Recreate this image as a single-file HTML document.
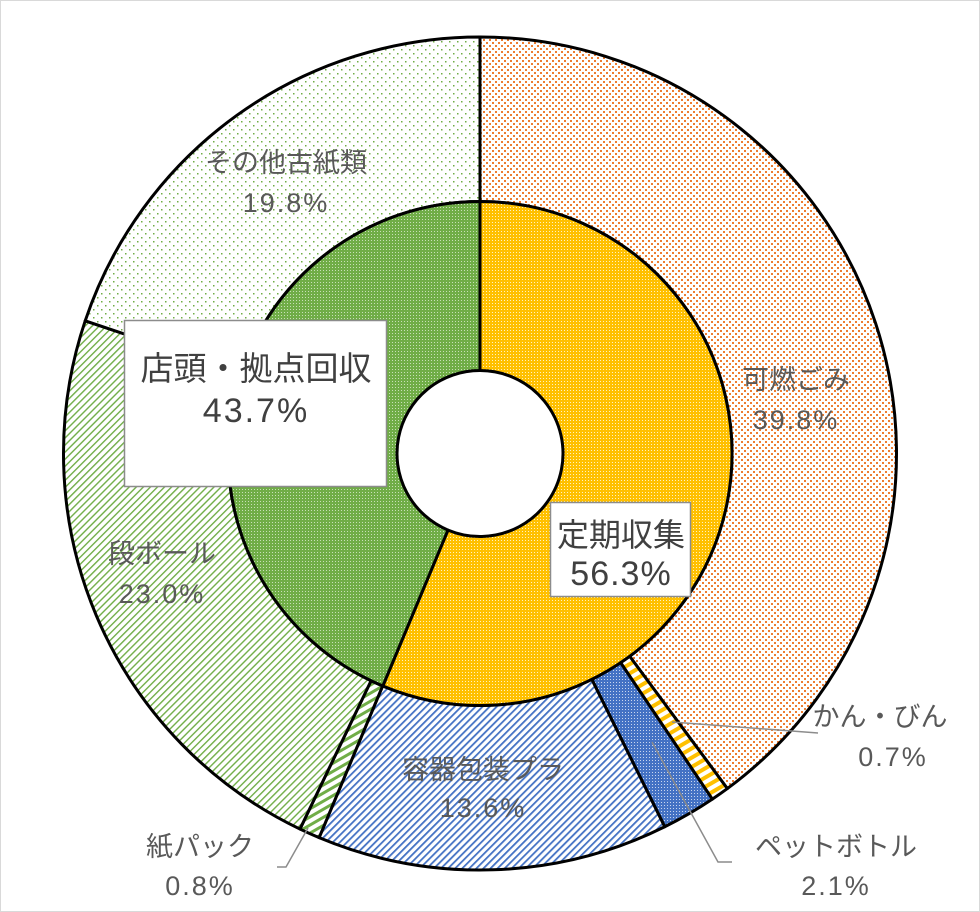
<!DOCTYPE html>
<html><head><meta charset="utf-8"><style>
html,body{margin:0;padding:0;background:#fff}
#c{position:relative;width:980px;height:912px;overflow:hidden;font-family:"Liberation Sans","Noto Sans CJK JP",sans-serif}
</style></head><body><div id="c">
<svg id="s" width="980" height="912" xmlns="http://www.w3.org/2000/svg">
<defs>
<pattern id="pOr" width="6" height="6" patternUnits="userSpaceOnUse"><rect width="6" height="6" fill="#fff"/><rect x="0" y="0" width="2" height="2" fill="#ED7D31"/><rect x="3" y="3" width="2" height="2" fill="#ED7D31"/></pattern>
<pattern id="pYe" width="3" height="3" patternUnits="userSpaceOnUse"><rect width="3" height="3" fill="#FFC000"/><rect x="0" y="0" width="1" height="1" fill="#fff3c0"/></pattern>
<pattern id="pGr" width="3" height="3" patternUnits="userSpaceOnUse"><rect width="3" height="3" fill="#70AD47"/><rect x="2" y="0" width="1" height="1" fill="#c8e0b8"/></pattern>
<pattern id="pBl" width="5" height="5" patternUnits="userSpaceOnUse" patternTransform="rotate(45)"><rect width="5" height="5" fill="#fff"/><rect width="1.8" height="5" fill="#4472C4"/></pattern>
<pattern id="pPet" width="3" height="3" patternUnits="userSpaceOnUse"><rect width="3" height="3" fill="#4472C4"/><rect x="1" y="1" width="1" height="1" fill="#c9d6ef"/></pattern>
<pattern id="pCan" width="8" height="8" patternUnits="userSpaceOnUse" patternTransform="rotate(-30)"><rect width="8" height="8" fill="#fff"/><rect width="8" height="4" fill="#FFC000"/></pattern>
<pattern id="pKp" width="7" height="7" patternUnits="userSpaceOnUse" patternTransform="rotate(-30)"><rect width="7" height="7" fill="#fff"/><rect width="7" height="3" fill="#70AD47"/></pattern>
<pattern id="pDan" width="5" height="5" patternUnits="userSpaceOnUse" patternTransform="rotate(-45)"><rect width="5" height="5" fill="#fff"/><rect width="5" height="1.4" fill="#70AD47"/></pattern>
<pattern id="pSo" width="8" height="8" patternUnits="userSpaceOnUse"><rect width="8" height="8" fill="#fff"/><rect x="1" y="1" width="1.5" height="1.5" fill="#70AD47"/><rect x="5" y="5" width="1.5" height="1.5" fill="#70AD47"/></pattern>
</defs>
<rect x="0.5" y="0.5" width="979" height="911" fill="none" stroke="#d9d9d9"/>
<g id="g"></g>
<g stroke="#8c8c8c" stroke-width="1.5" fill="none">
<polyline points="672,722 818,733"/>
<polyline points="652,742 718,862 732,862"/>
<polyline points="308,828 286,867 277,867"/>
</g>
<g fill="#595959" font-size="27" text-anchor="middle">
<text x="286" y="172">その他古紙類</text><text x="286" y="212" letter-spacing="2">19.8%</text>
<text x="796" y="389">可燃ごみ</text><text x="796" y="429" letter-spacing="2">39.8%</text>
<text x="162" y="563">段ボール</text><text x="162" y="603" letter-spacing="2">23.0%</text>
<text x="483" y="779">容器包装プラ</text><text x="483" y="817" letter-spacing="2">13.6%</text>
<text x="880" y="726">かん・びん</text><text x="893" y="766" letter-spacing="2">0.7%</text>
<text x="836" y="856">ペットボトル</text><text x="836" y="895" letter-spacing="2">2.1%</text>
<text x="200" y="856">紙パック</text><text x="200" y="895" letter-spacing="2">0.8%</text>
</g>
<rect x="124.5" y="320.5" width="262" height="166" fill="#fff" stroke="#8c8c8c" stroke-width="1.5"/>
<text x="256" y="380" font-size="33" fill="#404040" text-anchor="middle">店頭・拠点回収</text>
<text x="256" y="422" font-size="34" fill="#404040" text-anchor="middle" letter-spacing="2">43.7%</text>
<rect x="550.5" y="502.5" width="140" height="94" fill="#fff" stroke="#8c8c8c" stroke-width="1.5"/>
<text x="621" y="546" font-size="32" fill="#404040" text-anchor="middle">定期収集</text>
<text x="621" y="585" font-size="34" fill="#404040" text-anchor="middle" letter-spacing="1">56.3%</text>
</svg>
<script>
var cx=480,cy=453.5;
function pt(r,a){a=a*Math.PI/180;return [cx+r*Math.sin(a),cy-r*Math.cos(a)];}
function seg(r0,r1,a0,a1,fill){
 var p1=pt(r1,a0),p2=pt(r1,a1),p3=pt(r0,a1),p4=pt(r0,a0),l=(a1-a0)>180?1:0;
 var d="M"+p1+"A"+r1+","+r1+" 0 "+l+" 1 "+p2+"L"+p3+"A"+r0+","+r0+" 0 "+l+" 0 "+p4+"Z";
 return '<path d="'+d+'" fill="url(#'+fill+')" stroke="#000" stroke-width="3" stroke-linejoin="round"/>';
}
var h="";
var outer=[[39.8,"pOr"],[0.7,"pCan"],[2.1,"pPet"],[13.6,"pBl"],[0.8,"pKp"],[23.0,"pDan"],[19.8,"pSo"]];
var tot=99.8,a=0;
outer.forEach(function(o){var b=a+o[0]/tot*360;h+=seg(252,416.5,a,b,o[1]);a=b;});
h+=seg(83,252,0,56.3*3.6,"pYe");
h+=seg(83,252,56.3*3.6,360,"pGr");
document.getElementById("g").innerHTML=h;
</script>
</div></body></html>
